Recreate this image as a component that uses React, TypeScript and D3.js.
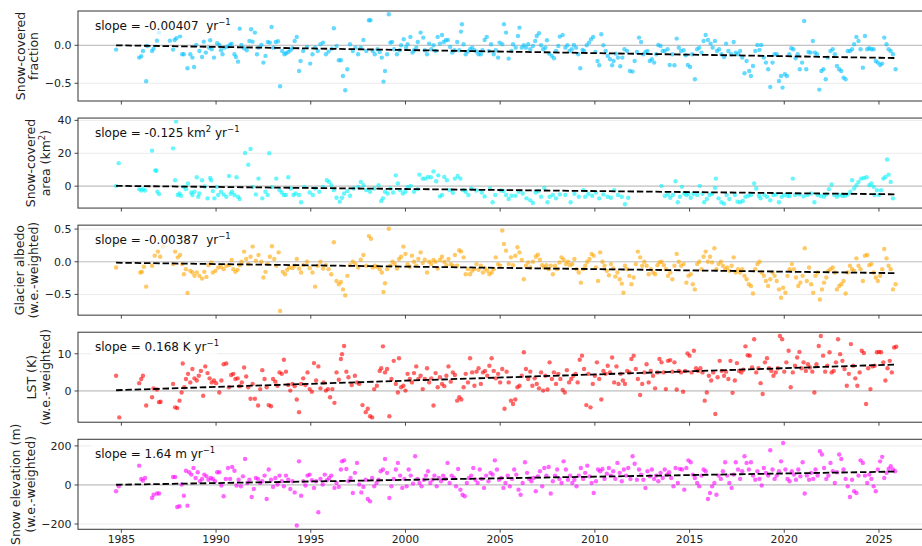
import React from 'react';
import * as d3 from 'd3';

const W = 922;
const H = 546;

const xTicks = [1985, 1990, 1995, 2000, 2005, 2010, 2015, 2020, 2025];

// Panel 1: snow-covered fraction anomaly
const fracYears = [1984.72,1985.94,1986.05,1986.14,1986.31,1986.36,1986.62,1986.70,1986.88,1986.99,1987.56,1987.73,1987.81,1987.90,1988.10,1988.21,1988.30,1988.49,1988.64,1988.75,1988.84,1988.95,1989.12,1989.26,1989.35,1989.46,1989.63,1989.69,1989.77,1989.89,1990.06,1990.17,1990.26,1990.34,1990.45,1990.60,1990.74,1990.82,1990.97,1991.05,1991.16,1991.25,1991.34,1991.48,1991.62,1991.76,1991.85,1991.93,1992.05,1992.16,1992.24,1992.39,1992.50,1992.61,1992.73,1992.84,1992.93,1993.04,1993.15,1993.27,1993.38,1993.49,1993.61,1993.69,1993.81,1993.92,1994.03,1994.15,1994.26,1994.38,1994.46,1994.60,1994.80,1994.97,1995.09,1995.23,1995.37,1995.51,1995.65,1995.80,1995.94,1996.11,1996.22,1996.36,1996.48,1996.59,1996.70,1996.82,1996.93,1997.07,1997.22,1997.36,1997.50,1997.64,1997.78,1997.93,1998.07,1998.15,1998.27,1998.38,1998.52,1998.64,1998.75,1998.84,1998.92,1999.03,1999.12,1999.20,1999.29,1999.40,1999.55,1999.69,1999.77,1999.91,2000.03,2000.11,2000.26,2000.37,2000.45,2000.57,2000.65,2000.80,2000.94,2001.02,2001.14,2001.25,2001.36,2001.48,2001.59,2001.70,2001.82,2001.93,2002.02,2002.13,2002.24,2002.36,2002.47,2002.59,2002.73,2002.84,2002.93,2002.98,2003.07,2003.18,2003.30,2003.41,2003.52,2003.64,2003.75,2003.86,2003.98,2004.06,2004.18,2004.29,2004.40,2004.52,2004.66,2004.77,2004.89,2004.97,2005.11,2005.20,2005.31,2005.45,2005.60,2005.68,2005.82,2005.94,2006.02,2006.14,2006.25,2006.36,2006.48,2006.59,2006.73,2006.85,2006.93,2007.05,2007.16,2007.27,2007.39,2007.47,2007.59,2007.73,2007.84,2007.95,2008.07,2008.15,2008.30,2008.44,2008.55,2008.66,2008.78,2008.89,2009.01,2009.12,2009.23,2009.35,2009.43,2009.57,2009.69,2009.80,2009.91,2010.03,2010.14,2010.23,2010.34,2010.45,2010.57,2010.68,2010.80,2010.91,2010.99,2011.11,2011.22,2011.34,2011.45,2011.56,2011.70,2011.85,2011.99,2012.10,2012.22,2012.33,2012.44,2012.56,2012.67,2012.78,2012.90,2013.01,2013.13,2013.24,2013.35,2013.47,2013.58,2013.69,2013.84,2013.95,2014.09,2014.20,2014.32,2014.43,2014.55,2014.69,2014.80,2014.91,2015.03,2015.14,2015.28,2015.40,2015.51,2015.63,2015.74,2015.85,2015.97,2016.11,2016.22,2016.34,2016.45,2016.56,2016.68,2016.82,2016.93,2017.05,2017.19,2017.33,2017.44,2017.56,2017.67,2017.78,2017.90,2018.01,2018.15,2018.24,2018.35,2018.47,2018.58,2018.69,2018.78,2018.92,2019.03,2019.15,2019.26,2019.38,2019.49,2019.60,2019.72,2019.83,2019.91,2020.03,2020.14,2020.26,2020.37,2020.48,2020.60,2020.71,2020.82,2020.94,2021.05,2021.16,2021.28,2021.39,2021.51,2021.62,2021.73,2021.85,2021.96,2022.07,2022.19,2022.30,2022.44,2022.56,2022.67,2022.78,2022.90,2023.01,2023.13,2023.24,2023.35,2023.47,2023.58,2023.69,2023.81,2023.92,2024.03,2024.15,2024.26,2024.38,2024.49,2024.60,2024.72,2024.83,2024.94,2025.06,2025.17,2025.28,2025.40,2025.51,2025.62,2025.74,2025.88];
const fracVals = [-0.057,-0.162,-0.145,-0.075,-0.474,-0.009,-0.075,-0.044,0.061,0.167,0.061,-0.057,0.070,0.092,0.118,-0.118,-0.118,-0.303,-0.118,-0.162,-0.285,0.004,-0.075,-0.154,0.048,-0.096,-0.031,0.066,-0.053,-0.162,0.026,0.004,-0.066,-0.118,-0.031,-0.018,0.009,0.022,-0.118,-0.154,-0.215,0.219,0.004,-0.039,-0.066,0.057,0.211,0.048,0.167,-0.118,-0.031,0.004,-0.228,-0.140,0.044,0.035,0.241,-0.031,0.044,0.053,-0.539,-0.075,-0.118,-0.105,-0.088,-0.066,-0.039,0.057,0.110,-0.338,-0.206,-0.075,-0.022,-0.241,-0.118,-0.031,-0.075,0.013,0.035,-0.118,-0.083,-0.044,0.224,-0.009,-0.197,-0.197,-0.404,-0.592,-0.316,0.013,-0.075,-0.031,-0.118,-0.031,0.070,-0.075,0.329,0.329,-0.075,-0.118,-0.053,-0.088,-0.162,-0.478,-0.338,-0.118,0.408,0.035,0.044,-0.053,-0.118,-0.066,0.000,0.079,-0.031,0.013,0.110,-0.096,-0.066,-0.031,0.044,0.167,0.101,-0.066,-0.118,0.022,-0.053,0.000,-0.075,0.110,0.022,0.136,0.044,0.066,0.070,-0.022,-0.096,-0.066,0.044,-0.066,0.180,0.276,0.013,-0.118,-0.083,-0.053,-0.031,-0.066,-0.083,-0.118,-0.118,-0.066,0.070,0.110,-0.075,0.013,-0.118,-0.066,-0.162,0.035,0.013,0.276,0.167,-0.175,-0.075,0.013,-0.031,0.123,0.232,-0.031,0.000,-0.031,0.013,-0.053,-0.009,0.057,0.123,0.158,0.000,-0.053,-0.031,0.066,-0.110,-0.140,-0.171,-0.075,-0.009,0.114,0.136,-0.031,0.000,-0.075,-0.053,0.004,-0.031,-0.118,-0.303,-0.061,-0.075,0.000,0.035,0.079,0.110,-0.088,-0.206,-0.263,0.145,0.000,-0.075,-0.140,-0.184,-0.263,-0.206,-0.110,-0.162,-0.276,-0.162,-0.053,-0.075,-0.338,-0.346,-0.206,-0.088,0.101,0.044,-0.118,-0.088,-0.075,-0.206,-0.184,-0.228,-0.118,0.004,-0.009,-0.075,-0.075,-0.053,-0.259,-0.118,-0.263,0.088,-0.031,-0.075,-0.066,-0.132,-0.259,-0.285,-0.118,-0.447,-0.053,-0.031,-0.096,0.057,0.136,0.070,0.022,-0.031,0.057,-0.075,-0.053,-0.118,-0.154,0.022,-0.075,-0.118,0.044,-0.096,-0.118,-0.075,-0.162,-0.368,-0.206,-0.338,-0.404,-0.272,-0.075,0.004,-0.061,0.004,-0.162,-0.228,-0.316,-0.548,-0.228,-0.118,-0.118,-0.469,-0.404,-0.557,-0.382,-0.404,-0.118,-0.039,-0.053,-0.171,-0.118,-0.316,-0.228,0.320,-0.316,-0.088,-0.096,0.057,-0.096,-0.118,-0.583,-0.338,-0.316,-0.447,-0.162,-0.075,-0.053,-0.118,-0.272,-0.316,-0.338,-0.425,-0.447,-0.075,-0.075,-0.053,0.013,0.110,0.057,-0.053,-0.294,0.123,-0.053,-0.039,-0.053,-0.053,-0.206,-0.228,-0.259,-0.241,0.101,0.013,-0.053,-0.075,-0.118,-0.316];

// Panel 2: snow-covered area anomaly (km2)
const areaYears = [1984.72,1984.86,1985.94,1986.05,1986.14,1986.25,1986.62,1986.79,1986.85,1986.90,1986.99,1987.73,1987.84,1987.89,1987.98,1988.07,1988.15,1988.30,1988.41,1988.52,1988.69,1988.75,1988.86,1988.98,1989.06,1989.12,1989.26,1989.40,1989.55,1989.69,1989.74,1989.83,1989.91,1990.03,1990.11,1990.26,1990.40,1990.54,1990.68,1990.77,1990.85,1990.97,1991.08,1991.16,1991.25,1991.53,1991.70,1991.82,1991.93,1992.10,1992.24,1992.44,1992.61,1992.73,1992.81,1992.95,1993.18,1993.35,1993.47,1993.58,1993.69,1993.81,1993.95,1994.09,1994.20,1994.38,1994.49,1994.66,1994.94,1995.11,1995.23,1995.45,1995.65,1995.85,1995.97,1996.08,1996.22,1996.36,1996.53,1996.65,1996.76,1996.93,1997.07,1997.27,1997.50,1997.64,1997.78,1997.93,1998.13,1998.35,1998.58,1998.72,1998.81,1998.92,1999.06,1999.20,1999.35,1999.49,1999.60,1999.72,1999.86,2000.00,2000.11,2000.28,2000.45,2000.63,2000.74,2000.91,2001.05,2001.19,2001.34,2001.48,2001.62,2001.73,2001.82,2001.93,2002.05,2002.19,2002.33,2002.50,2002.61,2002.76,2002.90,2003.04,2003.18,2003.32,2003.47,2003.75,2004.03,2004.18,2004.46,2004.60,2004.74,2005.03,2005.17,2005.31,2005.45,2005.60,2005.80,2005.97,2006.19,2006.39,2006.59,2006.73,2006.88,2007.02,2007.16,2007.33,2007.50,2007.61,2007.78,2007.95,2008.15,2008.44,2008.72,2008.92,2009.15,2009.38,2009.49,2009.66,2009.86,2010.06,2010.23,2010.45,2010.68,2010.85,2011.02,2011.22,2011.42,2011.59,2011.76,2013.52,2013.69,2013.86,2013.98,2014.12,2014.26,2014.38,2014.49,2014.60,2014.72,2014.83,2014.94,2015.06,2015.20,2015.40,2015.54,2015.68,2015.77,2015.91,2016.05,2016.19,2016.34,2016.39,2016.53,2016.68,2016.82,2016.96,2017.10,2017.39,2017.53,2017.67,2017.81,2017.95,2018.10,2018.24,2018.41,2018.52,2018.66,2018.75,2018.95,2019.09,2019.26,2019.43,2019.57,2019.72,2019.86,2020.00,2020.17,2020.28,2020.45,2020.57,2020.80,2021.02,2021.22,2021.42,2021.59,2021.76,2021.93,2022.10,2022.22,2022.36,2022.50,2022.64,2022.78,2022.90,2023.07,2023.21,2023.35,2023.49,2023.58,2023.69,2023.81,2023.92,2024.06,2024.20,2024.35,2024.49,2024.60,2024.72,2024.77,2024.89,2025.00,2025.11,2025.23,2025.34,2025.43,2025.51,2025.62,2025.74];
const areaVals = [0.2,14.0,-1.8,-2.6,-1.8,-2.6,21.6,9.6,9.4,-3.4,-4.8,23.0,3.6,39.0,-5.4,-4.4,-5.8,-0.4,-1.8,1.6,-3.8,-5.4,-3.4,5.4,-6.4,-4.4,3.6,-0.2,-7.4,5.0,3.6,-3.0,-7.4,-0.4,-5.4,-3.4,-5.0,-6.4,6.2,-4.6,-3.4,-5.4,5.4,-6.4,-7.8,20.2,13.0,22.6,-0.4,-5.0,4.6,-7.4,-3.4,-5.4,20.0,-0.6,4.6,-2.4,-3.8,-5.4,-5.4,5.4,-1.4,-5.4,-4.4,-5.4,-9.8,-0.4,-3.8,-5.4,-1.4,-3.4,-0.4,3.6,2.6,0.6,-2.4,-7.0,-9.4,-7.0,-4.4,-3.0,-5.8,-1.4,-0.4,2.6,0.6,-2.4,-3.4,-1.4,0.6,-9.0,-7.4,-3.4,-4.4,-1.4,-3.8,6.6,1.6,-2.4,-4.4,-3.4,-0.4,0.2,-3.4,-1.8,7.0,4.6,4.6,5.6,5.4,9.0,3.0,6.6,-6.2,-5.4,5.6,3.6,-2.4,-4.0,4.6,6.2,4.6,-2.4,-3.4,-5.4,-1.4,-2.6,-3.8,-6.2,-1.4,-9.8,-5.4,-2.6,-3.0,-5.4,-7.8,-5.8,-5.8,-3.4,-4.4,-7.4,-8.6,-10.2,-3.8,-3.0,-6.4,-1.0,-9.8,-6.4,-5.4,-7.4,-5.0,-5.4,-9.8,-4.6,-6.4,-2.4,-6.4,-4.6,-5.8,-3.8,-7.4,-5.0,-6.4,-7.0,-2.4,-5.4,-6.4,-11.0,-7.0,0.2,-6.0,-5.0,-7.0,-5.4,3.0,-9.8,-6.4,-0.4,-4.4,-5.4,-4.6,-7.0,-4.6,-5.4,0.2,-4.6,-9.8,-7.8,-5.4,-4.6,-1.0,4.6,-7.4,-9.8,-10.6,-5.4,-7.8,-5.4,-9.4,-9.8,-9.0,-6.4,-5.8,-5.4,1.6,-1.4,-5.8,-7.4,-5.4,-6.4,-8.6,-5.4,-5.0,-9.8,-6.4,-5.4,-5.8,-6.0,4.6,-5.4,-5.0,-6.2,-5.4,-4.4,-9.8,-5.4,-6.0,-6.4,-5.0,-1.8,1.0,-5.4,-6.4,-5.4,-6.0,-5.8,-5.0,-3.4,3.6,-1.4,0.6,2.6,4.6,5.0,5.4,0.6,1.6,-0.4,-5.4,-2.4,-5.4,-2.4,4.6,5.6,16.2,7.0,2.6,-7.4];

// Panel 3: glacier albedo anomaly
const albedoYears = [1984.72,1984.90,1986.00,1986.08,1986.19,1986.31,1986.62,1986.76,1986.93,1987.05,1987.19,1987.73,1987.84,1987.98,1988.10,1988.21,1988.30,1988.41,1988.49,1988.64,1988.75,1988.86,1988.98,1989.12,1989.26,1989.38,1989.49,1989.60,1989.74,1989.83,1989.97,1990.11,1990.26,1990.40,1990.54,1990.68,1990.82,1990.91,1991.02,1991.14,1991.25,1991.34,1991.48,1991.59,1991.70,1991.82,1991.93,1992.10,1992.24,1992.39,1992.50,1992.61,1992.73,1992.84,1992.95,1993.07,1993.18,1993.30,1993.38,1993.52,1993.64,1993.75,1993.86,1994.03,1994.15,1994.26,1994.38,1994.49,1994.60,1994.80,1994.94,1995.09,1995.23,1995.37,1995.51,1995.65,1995.80,1995.94,1996.08,1996.22,1996.36,1996.48,1996.59,1996.70,1996.82,1996.93,1997.07,1997.22,1997.36,1997.50,1997.64,1997.78,1997.93,1998.07,1998.18,1998.27,1998.38,1998.49,1998.64,1998.75,1998.84,1998.92,1999.03,1999.12,1999.20,1999.32,1999.43,1999.55,1999.66,1999.77,1999.89,2000.00,2000.11,2000.23,2000.34,2000.45,2000.57,2000.68,2000.80,2000.91,2001.02,2001.14,2001.25,2001.36,2001.48,2001.59,2001.70,2001.82,2001.93,2002.05,2002.16,2002.27,2002.39,2002.50,2002.61,2002.73,2002.84,2002.93,2003.07,2003.18,2003.30,2003.41,2003.52,2003.64,2003.75,2003.86,2003.98,2004.09,2004.20,2004.32,2004.43,2004.55,2004.66,2004.77,2004.89,2005.00,2005.11,2005.20,2005.31,2005.45,2005.57,2005.68,2005.80,2005.91,2006.02,2006.14,2006.25,2006.36,2006.48,2006.59,2006.73,2006.88,2006.99,2007.10,2007.22,2007.33,2007.44,2007.56,2007.67,2007.78,2007.90,2008.01,2008.13,2008.24,2008.35,2008.47,2008.58,2008.69,2008.81,2008.92,2009.03,2009.15,2009.26,2009.38,2009.49,2009.60,2009.72,2009.83,2009.94,2010.06,2010.17,2010.28,2010.40,2010.51,2010.63,2010.74,2010.85,2010.97,2011.08,2011.19,2011.31,2011.42,2011.51,2011.59,2011.70,2011.82,2011.93,2012.05,2012.16,2012.27,2012.39,2012.50,2012.61,2012.73,2012.84,2012.95,2013.07,2013.18,2013.30,2013.41,2013.52,2013.64,2013.75,2013.86,2013.98,2014.09,2014.20,2014.32,2014.43,2014.55,2014.69,2014.83,2014.94,2015.06,2015.17,2015.28,2015.40,2015.51,2015.63,2015.74,2015.85,2015.97,2016.08,2016.19,2016.31,2016.42,2016.53,2016.65,2016.76,2016.88,2016.99,2017.10,2017.22,2017.33,2017.44,2017.56,2017.67,2017.78,2017.90,2018.01,2018.13,2018.24,2018.35,2018.47,2018.58,2018.69,2018.81,2018.92,2019.03,2019.15,2019.26,2019.38,2019.49,2019.60,2019.72,2019.83,2019.94,2020.06,2020.17,2020.28,2020.40,2020.51,2020.62,2020.74,2020.85,2020.97,2021.08,2021.19,2021.31,2021.42,2021.53,2021.65,2021.76,2021.88,2021.99,2022.10,2022.22,2022.33,2022.44,2022.56,2022.67,2022.78,2022.90,2023.01,2023.13,2023.24,2023.35,2023.47,2023.58,2023.69,2023.81,2023.92,2024.03,2024.15,2024.26,2024.38,2024.49,2024.60,2024.72,2024.83,2024.94,2025.06,2025.17,2025.28,2025.40,2025.51,2025.62,2025.74,2025.88];
const albedoVals = [-0.088,0.27,-0.165,-0.155,-0.077,-0.381,-0.062,0.093,0.155,0.077,0.232,-0.036,0.155,0.067,0.103,-0.036,-0.191,-0.113,-0.479,-0.139,-0.165,-0.216,-0.165,-0.216,-0.258,-0.155,-0.232,-0.052,-0.010,-0.165,-0.139,-0.088,-0.077,-0.113,-0.062,-0.052,0.026,-0.113,-0.155,-0.124,-0.052,0.000,0.155,0.041,-0.036,0.077,0.232,0.015,0.103,0.000,-0.242,-0.155,-0.036,0.077,0.237,0.041,-0.062,0.144,-0.753,-0.155,-0.191,-0.124,-0.088,-0.098,-0.062,0.041,-0.103,-0.165,-0.052,0.000,-0.098,-0.165,-0.381,-0.062,0.000,-0.103,-0.052,-0.113,-0.191,0.299,-0.294,-0.345,-0.309,-0.423,-0.515,-0.216,-0.052,0.000,-0.036,-0.088,0.031,0.103,-0.062,0.392,0.351,-0.088,-0.062,-0.077,-0.113,-0.165,-0.464,-0.330,-0.113,0.505,-0.062,0.000,-0.036,-0.103,0.041,0.077,0.232,0.119,-0.036,-0.077,0.093,0.000,-0.062,0.041,0.144,-0.021,0.031,-0.165,0.000,-0.036,0.026,0.000,-0.103,0.031,0.077,0.000,-0.052,0.041,-0.036,-0.062,0.103,-0.062,0.175,0.155,0.067,-0.191,-0.113,-0.191,-0.139,-0.113,-0.036,-0.124,-0.062,-0.165,-0.103,-0.139,-0.191,-0.165,-0.113,0.067,-0.036,-0.062,0.479,0.273,0.170,-0.036,0.067,-0.052,0.093,0.222,0.144,0.026,-0.268,-0.062,-0.010,-0.088,0.000,0.077,0.108,0.031,-0.052,-0.088,-0.052,-0.113,-0.062,-0.191,-0.062,-0.113,-0.010,0.067,0.031,-0.036,0.000,-0.052,-0.036,0.041,-0.113,-0.165,-0.320,-0.113,-0.062,0.000,0.041,0.119,0.093,-0.088,-0.294,0.144,0.000,-0.062,-0.139,-0.206,-0.036,-0.103,-0.227,-0.165,-0.268,-0.335,-0.474,-0.062,-0.113,-0.216,-0.345,-0.242,-0.036,0.155,0.067,-0.062,0.000,-0.062,-0.191,-0.113,-0.165,-0.191,-0.052,-0.010,0.000,-0.052,-0.113,-0.216,-0.165,-0.268,-0.062,0.119,0.000,-0.062,-0.036,-0.320,-0.216,-0.191,-0.345,-0.423,-0.036,0.000,-0.113,0.077,0.155,0.000,0.077,-0.010,0.206,-0.113,-0.036,0.000,-0.062,-0.113,-0.088,-0.139,-0.062,0.067,-0.165,-0.113,-0.165,-0.113,-0.216,-0.268,-0.345,-0.371,-0.485,-0.113,-0.036,0.000,-0.165,-0.216,-0.294,-0.371,-0.268,-0.165,-0.216,-0.294,-0.423,-0.552,-0.397,-0.474,-0.216,-0.113,-0.036,-0.113,-0.242,-0.371,-0.320,-0.216,0.206,-0.294,-0.088,-0.345,-0.474,-0.216,-0.165,-0.577,-0.423,-0.320,-0.242,-0.139,-0.113,-0.088,-0.165,-0.423,-0.371,-0.345,-0.294,-0.485,-0.165,-0.062,-0.113,-0.139,0.052,-0.062,-0.113,-0.294,0.093,0.103,-0.052,-0.036,-0.165,-0.242,-0.294,-0.216,-0.113,0.196,0.052,-0.062,-0.113,-0.423,-0.345];

// Panel 4: land surface temperature anomaly (K)
const lstYears = [1984.72,1984.89,1985.94,1986.05,1986.14,1986.31,1986.62,1986.70,1986.88,1986.99,1987.07,1987.73,1987.84,1987.95,1988.07,1988.18,1988.24,1988.32,1988.41,1988.52,1988.64,1988.75,1988.86,1988.98,1989.09,1989.20,1989.32,1989.43,1989.55,1989.66,1989.77,1989.89,1990.00,1990.17,1990.28,1990.40,1990.54,1990.68,1990.80,1990.91,1991.02,1991.14,1991.25,1991.36,1991.48,1991.59,1991.70,1991.82,1991.93,1992.05,1992.22,1992.33,1992.44,1992.56,1992.67,1992.78,1992.90,1993.01,1993.13,1993.24,1993.35,1993.47,1993.58,1993.69,1993.81,1993.92,1994.03,1994.15,1994.26,1994.38,1994.49,1994.60,1994.72,1994.83,1994.94,1995.06,1995.17,1995.28,1995.40,1995.51,1995.68,1995.80,1995.91,1996.02,1996.14,1996.25,1996.36,1996.48,1996.59,1996.65,1996.76,1996.88,1996.99,1997.16,1997.33,1997.44,1997.56,1997.73,1997.90,1998.01,1998.13,1998.24,1998.35,1998.49,1998.64,1998.72,1998.81,1998.92,1999.03,1999.15,1999.26,1999.38,1999.49,1999.60,1999.66,1999.77,1999.89,2000.00,2000.11,2000.23,2000.34,2000.45,2000.57,2000.68,2000.80,2000.91,2001.02,2001.14,2001.25,2001.36,2001.48,2001.59,2001.70,2001.82,2001.93,2002.05,2002.16,2002.27,2002.39,2002.50,2002.61,2002.73,2002.84,2002.95,2003.07,2003.18,2003.30,2003.41,2003.52,2003.64,2003.75,2003.86,2003.98,2004.09,2004.20,2004.32,2004.43,2004.55,2004.66,2004.77,2004.89,2005.00,2005.11,2005.23,2005.34,2005.45,2005.57,2005.68,2005.80,2005.91,2006.02,2006.14,2006.25,2006.36,2006.48,2006.59,2006.70,2006.82,2006.93,2007.05,2007.16,2007.27,2007.39,2007.50,2007.61,2007.73,2007.84,2007.95,2008.07,2008.18,2008.30,2008.41,2008.52,2008.64,2008.75,2008.86,2008.98,2009.09,2009.20,2009.32,2009.43,2009.55,2009.66,2009.77,2009.89,2010.00,2010.11,2010.23,2010.34,2010.45,2010.57,2010.68,2010.80,2010.91,2011.02,2011.14,2011.25,2011.36,2011.48,2011.59,2011.70,2011.82,2011.93,2012.05,2012.16,2012.27,2012.39,2012.50,2012.61,2012.73,2012.84,2012.95,2013.07,2013.18,2013.30,2013.41,2013.52,2013.64,2013.75,2013.86,2013.98,2014.09,2014.20,2014.32,2014.43,2014.55,2014.66,2014.77,2014.89,2015.00,2015.11,2015.23,2015.34,2015.45,2015.57,2015.68,2015.80,2015.91,2016.02,2016.14,2016.25,2016.36,2016.48,2016.59,2016.70,2016.82,2016.93,2017.05,2017.16,2017.27,2017.39,2017.50,2017.61,2017.73,2017.84,2017.95,2018.07,2018.18,2018.30,2018.41,2018.52,2018.64,2018.75,2018.86,2018.98,2019.09,2019.20,2019.32,2019.43,2019.55,2019.66,2019.77,2019.89,2020.00,2020.11,2020.23,2020.34,2020.45,2020.57,2020.68,2020.80,2020.91,2021.02,2021.14,2021.25,2021.36,2021.48,2021.59,2021.70,2021.82,2021.93,2022.05,2022.16,2022.27,2022.39,2022.50,2022.61,2022.73,2022.84,2022.95,2023.07,2023.18,2023.30,2023.41,2023.52,2023.64,2023.75,2023.86,2023.98,2024.09,2024.20,2024.32,2024.43,2024.55,2024.66,2024.77,2024.89,2025.00,2025.11,2025.23,2025.34,2025.45,2025.57,2025.68,2025.80,2025.91];
const lstVals = [4.1,-7.1,2.1,3.2,4.1,-3.9,-1.7,0.7,0.4,-3.0,-2.9,1.9,-4.4,-4.6,-2.6,-0.4,7.4,1.0,3.2,4.6,2.3,5.9,3.4,2.8,4.1,5.4,-1.3,6.6,4.8,3.4,2.3,2.8,2.1,-0.4,2.8,7.2,7.4,1.0,4.3,4.6,3.2,3.4,1.3,2.3,6.3,3.9,1.0,-2.1,1.9,-2.1,-3.9,0.5,5.6,3.2,1.0,-3.8,-4.1,3.2,2.5,1.4,5.0,4.6,8.4,5.2,1.6,0.1,1.9,1.3,-2.3,-5.7,1.9,3.4,1.6,5.0,0.5,-0.2,7.5,2.8,6.6,0.7,2.3,0.1,0.5,-1.7,0.5,-3.2,5.0,3.0,8.6,9.9,12.1,5.2,3.7,1.6,4.1,2.3,1.9,-3.8,-5.7,-4.8,-6.8,-7.1,0.5,1.4,5.4,6.1,12.0,5.0,5.9,-6.8,3.2,8.1,1.9,-0.4,8.8,1.0,1.4,0.1,4.6,3.2,2.3,4.8,6.6,3.2,4.1,0.5,3.2,6.1,2.3,3.4,-3.9,4.8,1.0,3.7,1.9,1.3,4.1,6.6,2.5,5.0,4.3,-2.6,-1.7,-2.3,1.0,4.6,2.3,8.8,5.0,1.4,5.2,6.1,1.9,5.0,5.4,4.1,6.8,8.8,5.4,3.4,4.6,2.3,5.9,-4.8,5.2,2.3,-2.6,-3.5,-2.3,1.0,1.4,4.1,10.4,5.9,3.2,5.2,1.4,3.4,1.9,0.7,5.0,0.1,4.1,0.4,7.7,3.2,5.0,1.9,4.6,3.2,0.3,-0.4,5.6,2.3,3.2,4.1,4.6,2.3,8.4,9.5,5.9,-3.8,4.6,-4.4,1.9,4.1,7.7,3.2,-2.3,5.4,4.6,6.8,5.0,9.0,2.3,6.6,1.9,4.6,2.8,1.9,5.4,5.0,8.6,9.5,5.9,3.2,-1.1,1.9,5.0,7.2,2.3,5.4,4.1,0.7,5.0,8.6,7.7,5.0,0.5,8.1,8.3,5.2,7.7,0.4,5.4,5.0,-0.2,5.4,10.1,9.5,5.0,10.8,6.1,5.4,6.1,5.0,-2.6,-0.4,4.1,2.8,5.0,-6.2,3.7,8.1,5.4,4.1,5.2,3.2,8.1,-0.5,2.8,7.5,5.4,5.0,5.7,12.0,9.6,9.5,6.3,13.9,5.0,6.1,2.1,-0.8,7.7,8.8,6.1,5.4,4.1,5.0,6.1,14.8,13.9,5.2,7.7,10.8,1.0,5.0,6.8,9.0,10.5,6.1,7.7,5.4,7.2,6.3,5.2,-0.4,7.2,12.1,14.8,9.5,5.2,6.8,10.4,5.0,5.4,7.7,13.9,9.9,8.1,5.9,1.4,4.6,12.6,6.8,3.4,1.4,5.0,10.8,10.2,-3.5,6.1,0.5,6.6,6.8,10.4,10.5,10.4,7.7,2.8,6.1,8.1,5.0,11.7,11.9];

// Panel 5: snow elevation anomaly (m)
const elevYears = [1984.72,1984.86,1985.94,1986.05,1986.14,1986.25,1986.62,1986.70,1986.88,1986.99,1987.73,1987.84,1987.95,1988.07,1988.18,1988.30,1988.41,1988.49,1988.58,1988.69,1988.81,1988.92,1989.03,1989.15,1989.26,1989.38,1989.49,1989.60,1989.72,1989.83,1989.94,1990.06,1990.17,1990.28,1990.40,1990.51,1990.63,1990.74,1990.85,1990.97,1991.08,1991.19,1991.31,1991.42,1991.53,1991.65,1991.76,1991.88,1991.99,1992.10,1992.22,1992.33,1992.44,1992.56,1992.67,1992.78,1992.90,1993.01,1993.13,1993.24,1993.35,1993.47,1993.58,1993.69,1993.81,1993.92,1994.03,1994.15,1994.26,1994.38,1994.49,1994.60,1994.72,1994.83,1994.94,1995.06,1995.17,1995.28,1995.40,1995.51,1995.63,1995.74,1995.85,1995.97,1996.08,1996.25,1996.36,1996.48,1996.59,1996.65,1996.76,1996.88,1996.99,1997.10,1997.22,1997.33,1997.44,1997.56,1997.67,1997.78,1997.90,1998.01,1998.13,1998.24,1998.35,1998.47,1998.58,1998.69,1998.81,1998.92,1999.03,1999.15,1999.26,1999.38,1999.49,1999.60,1999.72,1999.83,1999.94,2000.06,2000.17,2000.28,2000.40,2000.51,2000.63,2000.74,2000.85,2000.97,2001.08,2001.19,2001.31,2001.42,2001.53,2001.65,2001.76,2001.88,2001.99,2002.10,2002.22,2002.33,2002.44,2002.56,2002.67,2002.78,2002.90,2003.01,2003.13,2003.24,2003.35,2003.47,2003.58,2003.69,2003.81,2003.92,2004.03,2004.15,2004.26,2004.38,2004.49,2004.60,2004.72,2004.83,2004.94,2005.06,2005.17,2005.28,2005.40,2005.51,2005.63,2005.74,2005.85,2005.97,2006.08,2006.19,2006.31,2006.42,2006.53,2006.65,2006.76,2006.88,2006.99,2007.10,2007.22,2007.33,2007.44,2007.56,2007.67,2007.78,2007.90,2008.01,2008.13,2008.24,2008.35,2008.47,2008.58,2008.69,2008.81,2008.92,2009.03,2009.15,2009.26,2009.38,2009.49,2009.60,2009.72,2009.83,2009.94,2010.06,2010.17,2010.28,2010.40,2010.51,2010.63,2010.74,2010.85,2010.97,2011.08,2011.19,2011.31,2011.42,2011.53,2011.65,2011.76,2011.88,2011.99,2012.10,2012.22,2012.33,2012.44,2012.56,2012.67,2012.78,2012.90,2013.01,2013.13,2013.24,2013.35,2013.47,2013.58,2013.69,2013.81,2013.92,2014.03,2014.15,2014.26,2014.38,2014.49,2014.60,2014.72,2014.83,2014.94,2015.06,2015.17,2015.28,2015.40,2015.51,2015.63,2015.74,2015.85,2015.97,2016.08,2016.19,2016.31,2016.42,2016.53,2016.65,2016.76,2016.88,2016.99,2017.10,2017.22,2017.33,2017.44,2017.56,2017.67,2017.78,2017.90,2018.01,2018.13,2018.24,2018.35,2018.47,2018.58,2018.69,2018.81,2018.92,2019.03,2019.15,2019.26,2019.38,2019.49,2019.60,2019.72,2019.83,2019.94,2020.06,2020.17,2020.28,2020.40,2020.51,2020.62,2020.74,2020.85,2020.97,2021.08,2021.19,2021.31,2021.42,2021.53,2021.65,2021.76,2021.88,2021.99,2022.10,2022.22,2022.33,2022.44,2022.56,2022.67,2022.78,2022.90,2023.01,2023.13,2023.24,2023.35,2023.47,2023.58,2023.69,2023.81,2023.92,2024.03,2024.15,2024.26,2024.38,2024.49,2024.60,2024.72,2024.83,2024.94,2025.06,2025.17,2025.28,2025.40,2025.51,2025.62,2025.74,2025.85];
const elevVals = [-32,-7,99,31,22,36,-67,-50,-44,-44,41,41,-113,-109,2,-55,73,-106,65,53,87,36,65,19,31,53,44,27,36,31,19,65,65,-3,-58,31,87,31,92,73,-3,27,-7,44,133,10,27,-62,-21,36,31,10,19,48,-72,79,27,-10,36,2,48,19,-7,48,27,-21,19,-38,-208,121,-55,19,-3,48,53,24,-15,19,-140,31,2,53,24,36,48,-15,10,-10,79,121,126,82,19,36,-41,62,113,2,-38,-10,27,-72,-84,36,-7,10,27,70,79,133,62,-67,-7,31,79,113,48,-15,31,-7,79,48,7,147,31,10,-7,27,48,70,10,27,48,-7,36,19,48,31,113,10,48,36,-7,82,-24,-50,-58,10,36,48,87,27,10,79,31,-15,48,19,62,53,126,79,27,36,-15,10,48,-7,31,79,53,-24,-50,10,116,62,31,19,36,-32,44,70,-7,87,48,92,-44,19,48,79,31,10,121,79,27,48,10,27,-7,48,87,31,62,99,44,10,-41,19,79,70,82,31,58,87,48,70,31,113,62,19,79,48,87,31,147,109,27,79,53,27,-15,70,44,79,31,48,19,62,36,79,53,65,36,-7,87,10,82,79,-24,87,126,116,53,36,10,-7,48,79,70,-72,-41,-7,10,-50,48,31,70,116,48,10,-15,53,116,79,31,70,147,113,79,116,48,27,70,31,-3,87,62,48,178,79,31,48,70,121,215,79,31,19,70,53,27,79,44,116,-44,48,27,62,31,79,48,173,156,87,31,48,113,70,10,65,156,133,79,31,-7,-62,27,-32,-41,48,126,113,48,10,53,31,-7,-32,79,121,144,36,62,82,96,79,70];

// Trend lines: value at first observation and slope per year
const trendStartYear = 1984.72;
const trendEndYear = 2025.9;
const trendStart = [0.0, 0.2, -0.015, 0.2, 1.0];
const slopes = [-0.00407, -0.125, -0.00387, 0.168, 1.64];
const slopeLabels = ['-0.00407', '-0.125', '-0.00387', '0.168', '1.64'];

const PLOT_LEFT = 78;
const PLOT_RIGHT = 939;
const PANEL_TOP0 = 11;
const PANEL_STEP = 107.07;
const PANEL_H = 90;

type Panel = {
  years: number[];
  vals: number[];
  domain: [number, number];
  ticks: number[];
  fmt: (v: number) => string;
  color: string;
  label: [string, string];
  labelX: [number, number];
  unit: string;
  unitSup: string;
  boxW: number;
};

const minus = (s: string) => s.replace('-', '\u2212');
const f1 = (v: number) => minus(d3.format('.1f')(v));
const f0 = (v: number) => minus(d3.format('d')(v));

const panels: Panel[] = [
  { years: fracYears, vals: fracVals, domain: [-0.733, 0.451], ticks: [-0.5, 0], fmt: f1, color: '#00bfff',
    label: ['Snow-covered', 'fraction'], labelX: [21, 34], unit: '', unitSup: '', boxW: 138 },
  { years: areaYears, vals: areaVals, domain: [-13.3, 41.4], ticks: [0, 20, 40], fmt: f0, color: '#00f0f8',
    label: ['Snow-covered', 'area (km'], labelX: [31, 46], unit: 'km', unitSup: '2', boxW: 140 },
  { years: albedoYears, vals: albedoVals, domain: [-0.817, 0.56], ticks: [-0.5, 0, 0.5], fmt: f1, color: '#ffa500',
    label: ['Glacier albedo', '(w.e.-weighted)'], labelX: [20, 34], unit: '', unitSup: '', boxW: 138 },
  { years: lstYears, vals: lstVals, domain: [-8.4, 15.8], ticks: [0, 10], fmt: f0, color: '#ff0000',
    label: ['LST (K)', '(w.e.-weighted)'], labelX: [32, 46], unit: 'K', unitSup: '', boxW: 126 },
  { years: elevYears, vals: elevVals, domain: [-227, 234], ticks: [-200, 0, 200], fmt: f0, color: '#ff00ff',
    label: ['Snow elevation (m)', '(w.e.-weighted)'], labelX: [16, 31], unit: 'm', unitSup: '', boxW: 116 },
];

const FONT = 'DejaVu Sans, sans-serif';
const SLOPE_FS = 12;
const SUP_FS = 8.5;
const LABEL_FS = 12.5;
const TICK_FS = 11;

export default function App() {
  const x = d3.scaleLinear().domain([1982.71, 2028.17]).range([PLOT_LEFT, PLOT_RIGHT]);
  return (
    <svg width={W} height={H} style={{ position: 'absolute', left: 0, top: 0, background: '#fff' }} fontFamily={FONT}>
      <rect x={0} y={0} width={W} height={H} fill="#fff" />
      <defs>
        {panels.map((p, i) => {
          const top = PANEL_TOP0 + i * PANEL_STEP;
          return (
            <clipPath id={`clip${i}`} key={i}>
              <rect x={PLOT_LEFT} y={top} width={PLOT_RIGHT - PLOT_LEFT} height={PANEL_H} />
            </clipPath>
          );
        })}
      </defs>
      {panels.map((p, i) => {
        const top = PANEL_TOP0 + i * PANEL_STEP;
        const bottom = top + PANEL_H;
        const y = d3.scaleLinear().domain(p.domain).range([bottom, top]);
        const t0 = trendStart[i];
        const trendY1 = t0 + slopes[i] * (trendEndYear - trendStartYear);
        const line = d3.line<[number, number]>().x(d => x(d[0])).y(d => y(d[1]));
        const trendPath = line([[trendStartYear, t0], [trendEndYear, trendY1]]) || '';
        const cy = (top + bottom) / 2;
        const textX = 95;
        const textY = top + 18.5;
        const isLast = i === panels.length - 1;
        return (
          <g key={i}>
            <g clipPath={`url(#clip${i})`}>
              {p.ticks.map(t => (
                <line key={t} x1={PLOT_LEFT} x2={PLOT_RIGHT} y1={y(t)} y2={y(t)} stroke="#ebebeb" strokeWidth={1} />
              ))}
              <line x1={PLOT_LEFT} x2={PLOT_RIGHT} y1={y(0)} y2={y(0)} stroke="#c4c4c4" strokeWidth={1.2} />
              {p.years.map((yr, k) => (
                <circle key={k} cx={x(yr)} cy={y(p.vals[k])} r={2.2} fill={p.color} fillOpacity={0.6} />
              ))}
              <path d={trendPath} fill="none" stroke="#000" strokeWidth={1.8} strokeDasharray="6.5,2.8" />
            </g>
            {/* slope annotation with translucent box */}
            <rect x={textX - 4} y={top + 5} width={p.boxW} height={19} fill="#fff" fillOpacity={0.7} />
            <text x={textX} y={textY} fontSize={SLOPE_FS} fill="#111" xmlSpace="preserve" style={{ whiteSpace: 'pre' }}>
              <tspan>{`slope = ${slopeLabels[i]} ${p.unit}`}</tspan>
              {p.unitSup ? <tspan dy={-5} fontSize={SUP_FS}>{p.unitSup}</tspan> : null}
              <tspan dy={p.unitSup ? 5 : 0}>{' yr'}</tspan>
              <tspan dy={-5} fontSize={SUP_FS}>{'\u22121'}</tspan>
            </text>
            {/* spines */}
            <rect x={PLOT_LEFT} y={top} width={PLOT_RIGHT - PLOT_LEFT} height={PANEL_H} fill="none" stroke="#333" strokeWidth={1} />
            {/* y ticks */}
            {p.ticks.map(t => (
              <g key={t}>
                <line x1={PLOT_LEFT - 3.5} x2={PLOT_LEFT} y1={y(t)} y2={y(t)} stroke="#333" strokeWidth={0.9} />
                <text x={PLOT_LEFT - 6.5} y={y(t)} dy="0.36em" textAnchor="end" fontSize={TICK_FS} fill="#222">{p.fmt(t)}</text>
              </g>
            ))}
            {/* x ticks */}
            {xTicks.map(t => (
              <g key={t}>
                <line x1={x(t)} x2={x(t)} y1={bottom} y2={bottom + 3.5} stroke="#333" strokeWidth={0.9} />
                {isLast ? (
                  <text x={x(t)} y={bottom + 13.3} textAnchor="middle" fontSize={10.8} fill="#222">{t}</text>
                ) : null}
              </g>
            ))}
            {/* y label, two lines */}
            <text transform={`translate(${p.labelX[0]},${cy}) rotate(-90)`} textAnchor="middle" dy="0.35em" fontSize={LABEL_FS} fill="#222">{p.label[0]}</text>
            <text transform={`translate(${p.labelX[1]},${cy}) rotate(-90)`} textAnchor="middle" dy="0.35em" fontSize={LABEL_FS} fill="#222">
              {p.label[1]}
              {i === 1 ? <><tspan dy={-5} fontSize={SUP_FS}>2</tspan><tspan dy={5}>)</tspan></> : null}
            </text>
          </g>
        );
      })}
    </svg>
  );
}
